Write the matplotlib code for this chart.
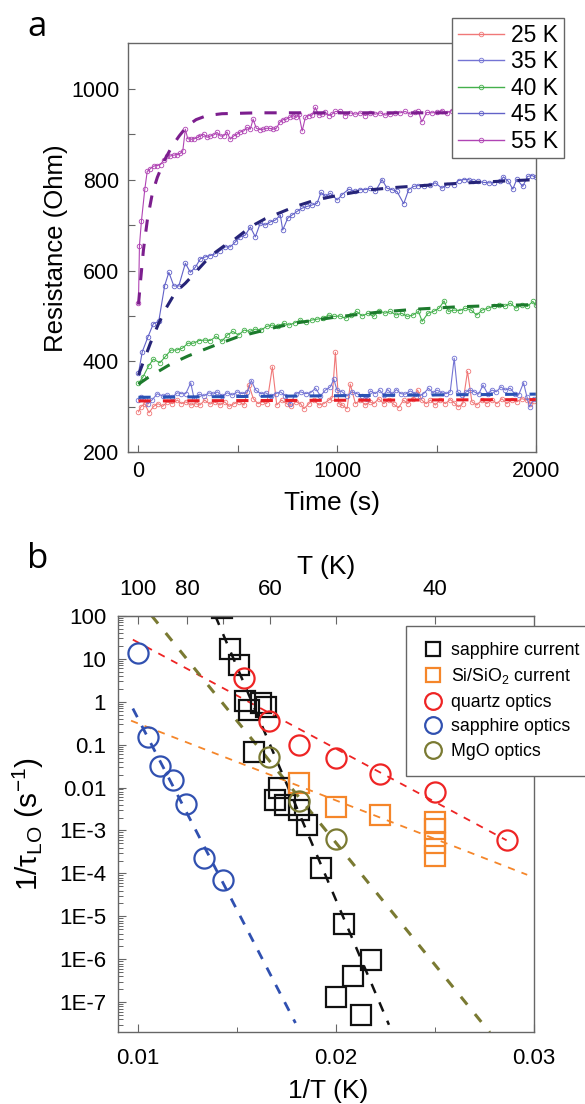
import matplotlib
matplotlib.use("Agg")
import matplotlib.pyplot as plt
from matplotlib.lines import Line2D
from matplotlib.ticker import LogLocator, NullFormatter
import numpy as np

plt.rcParams['font.family'] = ['Liberation Sans', 'DejaVu Sans']
plt.rcParams['mathtext.fontset'] = 'custom'
plt.rcParams['mathtext.rm'] = 'Liberation Sans'
plt.rcParams['mathtext.it'] = 'Liberation Sans:italic'
plt.rcParams['mathtext.bf'] = 'Liberation Sans:bold'

# ---------------- panel a: resistance vs time ----------------
t25 = [0, 12, 32, 53, 76, 99, 121, 146, 171, 196,
       216, 238, 263, 288, 310, 333, 360, 384, 410, 434,
       456, 481, 506, 531, 556, 578, 602, 624, 646, 674,
       696, 720, 746, 770, 791, 816, 833, 858, 883, 908,
       933, 958, 975, 991, 1008, 1025, 1050, 1066, 1092, 1117,
       1142, 1164, 1184, 1209, 1234, 1259, 1284, 1309, 1334, 1355,
       1381, 1405, 1426, 1448, 1469, 1494, 1519, 1544, 1569, 1589,
       1610, 1632, 1656, 1678, 1703, 1728, 1753, 1779, 1804, 1829,
       1854, 1879, 1904, 1929, 1955, 1972, 1990]
r25 = [289, 300, 307, 287, 301, 307, 301, 311, 307, 315,
       307, 311, 304, 307, 304, 315, 306, 311, 304, 311,
       301, 307, 311, 304, 348, 318, 307, 311, 307, 388,
       304, 315, 307, 301, 311, 307, 296, 307, 315, 304,
       307, 315, 320, 420, 307, 304, 296, 350, 307, 315,
       304, 311, 307, 318, 307, 315, 306, 298, 315, 307,
       318, 337, 315, 307, 315, 304, 316, 307, 316, 309,
       300, 307, 378, 311, 304, 315, 307, 316, 307, 318,
       307, 316, 311, 318, 315, 307, 312]

t35 = [0, 12, 32, 49, 70, 95, 121, 146, 171, 196,
       216, 238, 263, 280, 305, 330, 355, 377, 397, 422,
       447, 473, 498, 523, 548, 568, 590, 615, 640, 665,
       690, 715, 740, 765, 791, 816, 841, 866, 891, 916,
       941, 966, 983, 999, 1025, 1050, 1075, 1100, 1125, 1150,
       1167, 1192, 1214, 1234, 1254, 1276, 1298, 1321, 1343, 1368,
       1393, 1415, 1435, 1460, 1482, 1502, 1527, 1549, 1569, 1589,
       1606, 1628, 1650, 1670, 1690, 1712, 1734, 1757, 1779, 1801,
       1824, 1846, 1871, 1893, 1913, 1938, 1955, 1968, 1990]
r35 = [316, 322, 318, 307, 316, 329, 324, 326, 322, 331,
       329, 329, 353, 318, 328, 324, 331, 328, 333, 324,
       331, 326, 333, 329, 333, 358, 337, 329, 331, 324,
       329, 333, 324, 307, 329, 333, 329, 331, 341, 324,
       337, 344, 361, 337, 333, 324, 333, 329, 324, 318,
       335, 329, 337, 326, 338, 328, 338, 329, 328, 335,
       329, 324, 329, 341, 331, 337, 331, 329, 333, 407,
       333, 326, 333, 337, 333, 328, 348, 329, 337, 333,
       344, 337, 341, 329, 326, 353, 322, 300, 318]

t40 = [0, 23, 51, 75, 108, 136, 164, 192, 221, 249,
       277, 306, 334, 362, 391, 419, 447, 475, 504, 532,
       560, 589, 617, 645, 674, 702, 730, 758, 787, 815,
       843, 872, 900, 928, 957, 985, 1013, 1042, 1070, 1098,
       1126, 1155, 1183, 1211, 1240, 1268, 1296, 1325, 1353, 1381,
       1409, 1428, 1457, 1485, 1513, 1538, 1560, 1589, 1617, 1645,
       1674, 1702, 1730, 1758, 1787, 1815, 1843, 1872, 1900, 1928,
       1957, 1985, 2000]
r40 = [352, 366, 390, 405, 397, 411, 425, 425, 429, 440,
       440, 446, 447, 446, 455, 444, 458, 466, 458, 469,
       466, 471, 469, 477, 480, 477, 484, 480, 485, 491,
       487, 491, 493, 495, 502, 499, 500, 495, 502, 510,
       500, 506, 499, 512, 506, 510, 502, 506, 499, 502,
       510, 488, 506, 510, 517, 533, 510, 513, 512, 517,
       513, 502, 513, 517, 521, 525, 521, 528, 517, 525,
       521, 532, 524]

t45 = [0, 19, 47, 75, 102, 132, 153, 178, 203, 236,
       261, 286, 312, 337, 362, 387, 412, 437, 462, 488,
       513, 538, 563, 588, 613, 638, 664, 689, 714, 726,
       751, 773, 798, 823, 848, 873, 899, 919, 940, 966,
       1000, 1025, 1058, 1092, 1117, 1142, 1167, 1192, 1226, 1251,
       1276, 1301, 1335, 1360, 1385, 1409, 1436, 1469, 1494, 1527,
       1552, 1586, 1611, 1636, 1661, 1686, 1711, 1737, 1762, 1787,
       1820, 1837, 1862, 1884, 1904, 1934, 1958, 1980, 2000]
r45 = [374, 421, 453, 483, 488, 567, 596, 566, 566, 616,
       596, 607, 626, 630, 633, 637, 644, 652, 652, 663,
       674, 678, 696, 674, 704, 700, 707, 711, 722, 689,
       715, 722, 730, 737, 741, 744, 748, 772, 763, 770,
       755, 767, 779, 774, 778, 778, 781, 774, 800, 781,
       778, 774, 747, 778, 785, 787, 785, 789, 793, 781,
       789, 789, 798, 800, 800, 796, 796, 794, 793, 793,
       796, 806, 796, 779, 801, 785, 807, 809, 805]

t55 = [0, 5, 15, 32, 44, 60, 77, 94, 111, 128,
       144, 161, 178, 195, 211, 223, 236, 248, 265, 282,
       298, 312, 328, 345, 362, 378, 395, 412, 429, 445,
       462, 479, 496, 513, 530, 546, 563, 577, 593, 610,
       627, 644, 660, 677, 694, 711, 727, 744, 761, 778,
       795, 807, 824, 840, 857, 874, 890, 907, 924, 941,
       958, 974, 991, 1016, 1041, 1066, 1092, 1117, 1142, 1167,
       1192, 1217, 1242, 1268, 1293, 1318, 1343, 1368, 1393, 1409,
       1426, 1451, 1477, 1502, 1527, 1552, 1577, 1610, 1650, 1700,
       1750, 1800, 1850, 1900, 1950, 2000]
r55 = [528, 655, 709, 779, 818, 824, 830, 831, 833, 844,
       852, 852, 854, 855, 858, 863, 911, 890, 889, 890,
       893, 896, 900, 893, 896, 898, 904, 896, 896, 905,
       889, 896, 900, 905, 907, 915, 911, 933, 913, 910,
       911, 913, 913, 911, 913, 926, 932, 933, 937, 941,
       937, 944, 907, 937, 941, 942, 959, 942, 944, 948,
       941, 944, 950, 950, 941, 947, 944, 947, 941, 947,
       944, 947, 942, 944, 947, 947, 950, 944, 948, 950,
       927, 948, 947, 948, 952, 947, 952, 948, 946, 950,
       945, 948, 946, 950, 947, 949]

# fitted curves (dashed)
tfit25 = [0, 2000]
rfit25 = [313, 316]
tfit35 = [0, 2000]
rfit35 = [321, 328]
tfit40 = [0, 50, 100, 150, 200, 250, 300, 400, 500, 600, 700, 800, 1000, 1200, 1400, 1600, 1800, 2000]
rfit40 = [350, 365, 378, 391, 402, 412, 421, 438, 454, 465, 476, 485, 498, 508, 515, 520, 523, 525]
tfit45 = [0, 30, 60, 100, 140, 186, 236, 287, 337, 387, 437, 488, 538, 588, 638, 700, 790, 890,
          1000, 1150, 1300, 1500, 1700, 1850, 2000]
rfit45 = [370, 405, 440, 482, 518, 552, 572, 596, 620, 640, 656, 670, 687, 702, 714, 725, 741, 755,
          765, 777, 783, 789, 794, 797, 800]
tfit55 = [0, 10, 25, 45, 70, 95, 130, 170, 205, 245, 290, 345, 420, 600, 1000, 2000]
rfit55 = [525, 575, 645, 712, 770, 805, 842, 874, 896, 918, 932, 941, 945, 947, 947, 947]

labels_a = ['25 K', '35 K', '40 K', '45 K', '55 K']
data_colors = ['#f07878', '#7474d4', '#44b04c', '#6262c8', '#b044b4']
fit_colors = ['#e81e26', '#2a52b4', '#1c7a2c', '#262478', '#7c1e8e']

# ---------------- panel b: Arrhenius plot ----------------
sc_x = [0.01427, 0.01466, 0.01513, 0.01540, 0.01560, 0.01622, 0.01645, 0.01589, 0.01714, 0.01695,
        0.01743, 0.01814, 0.01853, 0.01925, 0.02042, 0.02179, 0.02085, 0.02000, 0.02126]
sc_y = [150, 17, 7.0, 1.05, 0.65, 0.95, 0.75, 0.068, 0.0095, 0.0052,
        0.0040, 0.0030, 0.00135, 1.35e-4, 6.5e-6, 9.8e-7, 4e-7, 1.3e-7, 5e-8]
si_x = [0.01815, 0.0200, 0.02225, 0.025, 0.025, 0.025, 0.025]
si_y = [0.0125, 3.6e-3, 2.3e-3, 1.6e-3, 1.1e-3, 5e-4, 2.5e-4]
qo_x = [0.01536, 0.01664, 0.01815, 0.0200, 0.02225, 0.025, 0.02862]
qo_y = [3.5, 0.35, 0.10, 0.048, 0.021, 0.0077, 5.9e-4]
so_x = [0.01, 0.01051, 0.01113, 0.01177, 0.01245, 0.01334, 0.01428]
so_y = [13.4, 0.148, 0.032, 0.0147, 0.0041, 2.3e-4, 6.9e-5]
mo_x = [0.01664, 0.01815, 0.0200]
mo_y = [0.051, 4.8e-3, 6.3e-4]

fit_sc_x, fit_sc_y = [0.01391, 0.02268], [100, 3e-8]
fit_si_x, fit_si_y = [0.00966, 0.02966], [0.36, 9.3e-5]
fit_qo_x, fit_qo_y = [0.00975, 0.02862], [27.7, 5.9e-4]
fit_so_x, fit_so_y = [0.00975, 0.01796], [0.69, 3.3e-8]
fit_mo_x, fit_mo_y = [0.0107, 0.02777], [100, 2e-8]

labels_b = ['sapphire current', 'Si/SiO$_\\mathrm{2}$ current', 'quartz optics',
            'sapphire optics', 'MgO optics']
colors_b = ['#111111', '#f5862a', '#ee2424', '#3050b0', '#7a7a32']

ytick_vals = [1e2, 1e1, 1, 0.1, 0.01, 1e-3, 1e-4, 1e-5, 1e-6, 1e-7]
ytick_labels = ['100', '10', '1', '0.1', '0.01', '1E-3', '1E-4', '1E-5', '1E-6', '1E-7']
T_ticks = [100, 80, 70, 60, 50, 40]
T_labels = ['100', '80', '', '60', '', '40']

spine_col = '#666666'

fig = plt.figure(figsize=(5.85, 11.04), dpi=100)

# ---- panel a ----
ax1 = fig.add_axes([0.218, 0.5903, 0.698, 0.3705])
for t, r, lab, col in zip([t25, t35, t40, t45, t55], [r25, r35, r40, r45, r55],
                          labels_a, data_colors):
    ax1.plot(t, r, '-o', color=col, lw=0.8, ms=3.3, mfc='none', mew=0.6, label=lab)
for tf, rf, col in zip([tfit25, tfit35, tfit40, tfit45, tfit55],
                       [rfit25, rfit35, rfit40, rfit45, rfit55], fit_colors):
    ax1.plot(tf, rf, color=col, lw=2.2, dashes=(4, 4))

ax1.set_xlim(-55, 2000)
ax1.set_ylim(200, 1100)
ax1.set_xticks([0, 1000, 2000])
ax1.set_xticks([500, 1500], minor=True)
ax1.set_yticks([200, 400, 600, 800, 1000])
ax1.set_yticks([300, 500, 700, 900], minor=True)
ax1.tick_params(which='both', direction='in', length=5, width=0.8, color=spine_col,
                labelsize=15.5, pad=6)
for s in ax1.spines.values():
    s.set_color(spine_col)
    s.set_linewidth(1.0)
ax1.set_xlabel('Time (s)', fontsize=19, va='center')
ax1.xaxis.set_label_coords(0.5, -0.124)
ax1.set_ylabel('Resistance (Ohm)', fontsize=18.5, va='center', ha='center')
ax1.yaxis.set_label_coords(-0.175, 0.5)

h, l = ax1.get_legend_handles_labels()
leg_a = fig.legend(h, l, loc='upper right', bbox_to_anchor=(0.9634, 0.9835), fontsize=16.5,
                   frameon=True, fancybox=False, edgecolor=spine_col, framealpha=1,
                   borderpad=0.25, labelspacing=0.15, handlelength=2.0, handletextpad=0.3,
                   borderaxespad=0)
for ln in leg_a.get_lines():
    ln.set_linewidth(1.0)

# ---- panel b ----
ax2 = fig.add_axes([0.2017, 0.0649, 0.711, 0.3774])
ax2.set_yscale('log')

ax2.plot(fit_sc_x, fit_sc_y, color=colors_b[0], lw=1.8, dashes=(4, 4))
ax2.plot(fit_si_x, fit_si_y, color=colors_b[1], lw=1.3, dashes=(4, 4))
ax2.plot(fit_qo_x, fit_qo_y, color=colors_b[2], lw=1.3, dashes=(4, 4))
ax2.plot(fit_so_x, fit_so_y, color=colors_b[3], lw=2.0, dashes=(3.5, 3.5))
ax2.plot(fit_mo_x, fit_mo_y, color=colors_b[4], lw=2.2, dashes=(3.3, 4))

ax2.plot(sc_x, sc_y, 's', ms=13.7, mfc='none', mec=colors_b[0], mew=1.6)
ax2.plot(si_x, si_y, 's', ms=13.7, mfc='none', mec=colors_b[1], mew=1.6)
ax2.plot(qo_x, qo_y, 'o', ms=14.5, mfc='none', mec=colors_b[2], mew=1.6)
ax2.plot(so_x, so_y, 'o', ms=14.5, mfc='none', mec=colors_b[3], mew=1.6)
ax2.plot(mo_x, mo_y, 'o', ms=14.5, mfc='none', mec=colors_b[4], mew=1.6)

ax2.set_xlim(0.009, 0.03)
ax2.set_ylim(2e-8, 100)
ax2.set_xticks([0.01, 0.02, 0.03], labels=['0.01', '0.02', '0.03'])
ax2.set_xticks([0.015, 0.025], minor=True)
ax2.set_yticks(ytick_vals, labels=ytick_labels)
ax2.yaxis.set_minor_locator(LogLocator(base=10, subs=np.arange(2, 10), numticks=20))
ax2.yaxis.set_minor_formatter(NullFormatter())
ax2.tick_params(axis='x', which='major', labelsize=16, pad=11.5)
ax2.tick_params(axis='y', which='major', labelsize=16, pad=8.6)
ax2.tick_params(which='major', direction='in', length=6, width=0.8, color=spine_col)
ax2.tick_params(which='minor', direction='in', length=3.5, width=0.7, color=spine_col)
for s in ax2.spines.values():
    s.set_color(spine_col)
    s.set_linewidth(1.0)

ax2.set_xlabel('1/T (K)', fontsize=19, va='center')
ax2.xaxis.set_label_coords(0.505, -0.141)
ax2.set_ylabel('1/$\\mathrm{\\tau_{LO}}$ (s$^{\\mathrm{-1}}$)', fontsize=21.5, va='center', ha='center')
ax2.yaxis.set_label_coords(-0.216, 0.5)


def inv(x):
    x = np.asarray(x, dtype=float)
    with np.errstate(divide='ignore'):
        return 1.0 / x


sec = ax2.secondary_xaxis('top', functions=(inv, inv))
sec.set_xticks(T_ticks, labels=T_labels)
sec.tick_params(direction='in', length=6, width=0.8, color=spine_col, labelsize=16, pad=11)
sec.spines['top'].set_color(spine_col)
sec.set_xlabel('T (K)', fontsize=19, labelpad=4)

proxies = [
    Line2D([], [], ls='none', marker='s', ms=9.5, mfc='none', mec=colors_b[0], mew=1.6),
    Line2D([], [], ls='none', marker='s', ms=9.5, mfc='none', mec=colors_b[1], mew=1.6),
    Line2D([], [], ls='none', marker='o', ms=12, mfc='none', mec=colors_b[2], mew=1.6),
    Line2D([], [], ls='none', marker='o', ms=12, mfc='none', mec=colors_b[3], mew=1.6),
    Line2D([], [], ls='none', marker='o', ms=12, mfc='none', mec=colors_b[4], mew=1.6),
]
fig.legend(proxies, labels_b, loc='upper left', bbox_to_anchor=(0.694, 0.433), fontsize=12.8,
           frameon=True, fancybox=False, edgecolor=spine_col, framealpha=1,
           borderpad=0.9, labelspacing=0.42, handlelength=1.2, handletextpad=0.45,
           borderaxespad=0)

fig.text(0.064, 0.9755, 'a', fontsize=25, family='Open Sans', ha='center', va='center')
fig.text(0.064, 0.4937, 'b', fontsize=25, family='Open Sans', ha='center', va='center')

plt.savefig('out.png', dpi=100)
